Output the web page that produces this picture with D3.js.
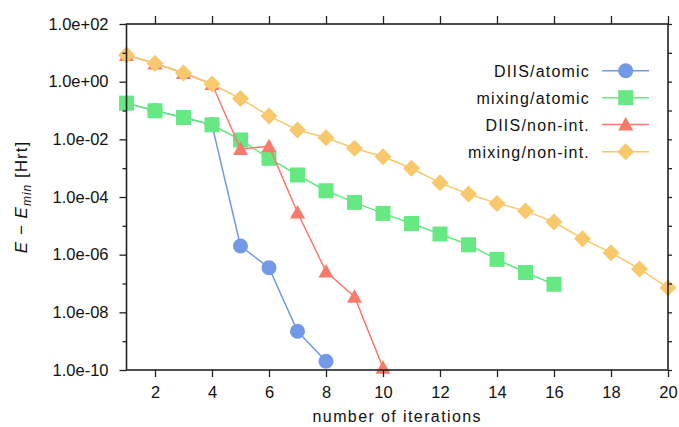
<!DOCTYPE html>
<html><head><meta charset="utf-8">
<script src="https://cdn.jsdelivr.net/npm/d3@7"></script>
<style>
html,body{margin:0;padding:0;background:#fff;}
svg text{font-family:"Liberation Sans",Arial,Helvetica,sans-serif;}
</style></head>
<body><svg id="c" width="679" height="427"></svg>
<script>
const iterations = d3.range(1, 21);
const seriesNames = ["DIIS/atomic", "mixing/atomic", "DIIS/non-int.", "mixing/non-int."];
const diisAtomic = [0.18, 0.098, 0.057, 0.032, 2.0e-6, 3.5e-7, 2.2e-9, 2.0e-10];
const mixingAtomic = [0.18, 0.098, 0.057, 0.032, 9.5e-3, 2.2e-3, 5.8e-4, 1.65e-4, 6.5e-5, 2.7e-5, 1.2e-5, 5.2e-6, 2.2e-6, 6.9e-7, 2.4e-7, 9.4e-8];
const diisNonInt = [8.4, 4.3, 2.0, 0.83, 4.6e-3, 5.8e-3, 2.9e-5, 2.6e-7, 3.5e-8, 1.2e-10];
const mixingNonInt = [8.4, 4.3, 2.0, 0.83, 0.26, 0.065, 0.021, 0.0114, 4.9e-3, 2.5e-3, 9.9e-4, 3.1e-4, 1.27e-4, 6.0e-5, 3.3e-5, 1.36e-5, 3.6e-6, 1.17e-6, 3.2e-7, 7.1e-8];
const xTicks = [2, 4, 6, 8, 10, 12, 14, 16, 18, 20];
const yTicks = [1e2, 1e0, 1e-2, 1e-4, 1e-6, 1e-8, 1e-10];
const yTickLabels = ["1.0e+02", "1.0e+00", "1.0e-02", "1.0e-04", "1.0e-06", "1.0e-08", "1.0e-10"];
const yMinorTicks = [1e1, 1e-1, 1e-3, 1e-5, 1e-7, 1e-9];
const colors = ["#7399e6", "#66e883", "#f87a6c", "#f8c86c"];
const seriesData = [diisAtomic, mixingAtomic, diisNonInt, mixingNonInt];
const markers = ["circle", "square", "triangle", "diamond"];

const svg = d3.select("#c");
const L = 126.5, R = 668, T = 24, B = 370;
const x = d3.scaleLinear().domain([1, 20]).range([L, R]);
const y = d3.scaleLog().domain([1e-10, 1e2]).range([B, T]);

function marker(g, type, color) {
  if (type === "circle") g.append("circle").attr("r", 7.5).attr("fill", color);
  else if (type === "square") g.append("rect").attr("x", -7.5).attr("y", -7.5).attr("width", 15).attr("height", 15).attr("fill", color);
  else if (type === "triangle") g.append("path").attr("d", "M0,-7.5L7.5,6L-7.5,6Z").attr("fill", color);
  else g.append("path").attr("d", "M0,-8.5L8.5,0L0,8.5L-8.5,0Z").attr("fill", color);
}

seriesData.forEach((vals, i) => {
  const pts = vals.map((v, k) => [iterations[k], v]);
  const g = svg.append("g");
  g.append("path").datum(pts)
    .attr("d", d3.line().x(d => x(d[0])).y(d => y(d[1])))
    .attr("fill", "none").attr("stroke", colors[i]).attr("stroke-width", 1.5);
  pts.forEach(d => {
    const m = g.append("g").attr("transform", `translate(${x(d[0])},${y(d[1])})`);
    marker(m, markers[i], colors[i]);
  });
});

const axisColor = "#222";
const fontSize = "16px";
const gl = svg.append("g").attr("transform", `translate(${L},0)`)
  .call(d3.axisLeft(y).tickValues(yTicks).tickFormat((d, i) => yTickLabels[i]).tickSize(7).tickPadding(11));
const glm = svg.append("g").attr("transform", `translate(${L},0)`)
  .call(d3.axisLeft(y).tickValues(yMinorTicks).tickFormat("").tickSize(4));
const gr = svg.append("g").attr("transform", `translate(${R},0)`)
  .call(d3.axisRight(y).tickValues(yTicks.concat(yMinorTicks)).tickFormat("").tickSize(4));
const gb = svg.append("g").attr("transform", `translate(0,${B})`)
  .call(d3.axisBottom(x).tickValues(xTicks).tickFormat(d3.format("d")).tickSize(7).tickPadding(9));
const gt = svg.append("g").attr("transform", `translate(0,${T})`)
  .call(d3.axisTop(x).tickValues(xTicks).tickFormat("").tickSize(8));
[gl, glm, gr, gb, gt].forEach(g => {
  g.select(".domain").remove();
  g.selectAll(".tick line").attr("stroke", axisColor).attr("stroke-width", 1.3);
  g.selectAll("text").attr("fill", "#111").style("font-size", "16.5px").style("font-family", '"Liberation Sans",Arial,sans-serif');
});
svg.append("rect").attr("x", L).attr("y", T).attr("width", R - L).attr("height", B - T)
  .attr("fill", "none").attr("stroke", axisColor).attr("stroke-width", 1.6);

svg.append("text").attr("x", (L + R) / 2).attr("y", 422).attr("text-anchor", "middle")
  .style("font-size", fontSize).style("letter-spacing", "1.4px").attr("fill", "#111").text("number of iterations");
const yt = svg.append("text").attr("transform", `translate(27,${(T + B) / 2}) rotate(-90)`)
  .attr("text-anchor", "middle").style("font-size", "17px").style("letter-spacing", "1.0px").attr("fill", "#111");
yt.append("tspan").style("font-style", "italic").text("E");
yt.append("tspan").text(" − ");
yt.append("tspan").style("font-style", "italic").text("E");
yt.append("tspan").style("font-style", "italic").style("font-size", "12px").attr("dy", 4).text("min");
yt.append("tspan").attr("dy", -4).text(" [Hrt]");

const legY = [70.7, 97.7, 124.5, 151.7];
seriesNames.forEach((n, i) => {
  const g = svg.append("g").attr("transform", `translate(0,${legY[i]})`);
  g.append("text").attr("x", 590).attr("y", 6).attr("text-anchor", "end")
    .style("font-size", fontSize).style("letter-spacing", "1.2px").attr("fill", "#111").text(n);
  g.append("line").attr("x1", 602).attr("x2", 649).attr("y1", 0).attr("y2", 0)
    .attr("stroke", colors[i]).attr("stroke-width", 1.5);
  const m = g.append("g").attr("transform", "translate(625.7,0)");
  marker(m, markers[i], colors[i]);
});
</script></body></html>
